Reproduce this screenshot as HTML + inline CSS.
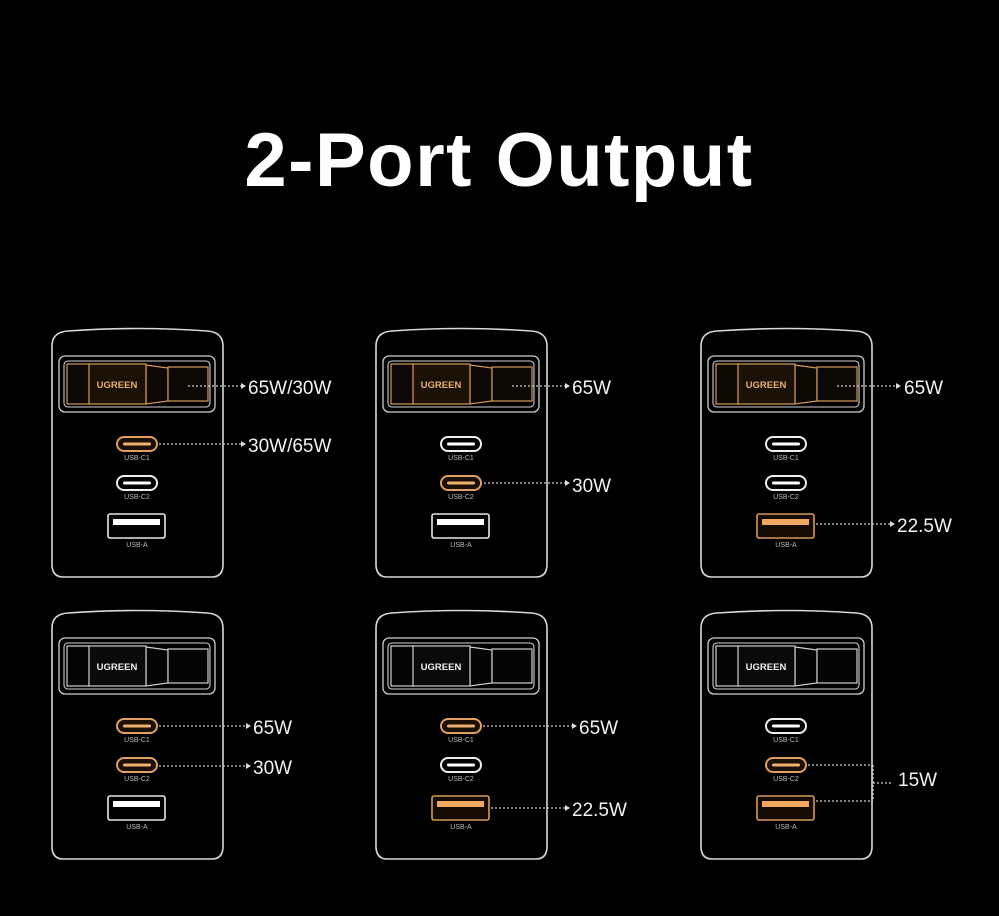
<!DOCTYPE html>
<html><head><meta charset="utf-8"><style>
html,body{margin:0;padding:0;background:#000;}
svg{display:block}
.t{font-family:"Liberation Sans",sans-serif;fill:#fff;}
.lbl{font-family:"Liberation Sans",sans-serif;fill:#bbb;font-size:7px;text-anchor:middle;}
.w{font-family:"Liberation Sans",sans-serif;fill:#f2f2f2;font-size:19px;}
.ug{font-family:"Liberation Sans",sans-serif;font-weight:bold;font-size:9.5px;text-anchor:middle;}
.dot{stroke:#ccc;stroke-width:1.3;stroke-dasharray:2 2;fill:none}
</style></head><body>
<svg width="999" height="916" viewBox="0 0 999 916" xmlns="http://www.w3.org/2000/svg">
<rect width="999" height="916" fill="#000"/>
<text class="t" x="499" y="186" font-size="76" font-weight="bold" text-anchor="middle" letter-spacing="1.5">2-Port Output</text>
<defs>
<g id="body">
<path d="M52,346 Q52,332 68,331 Q137,326 207,331 Q223,332 223,346 L223,566 Q222,577 212,577 L63,577 Q53,577 52,566 Z" fill="#000" stroke="#d8d8d8" stroke-width="1.6"/>
<rect x="59" y="356" width="156" height="56" rx="6" fill="none" stroke="#cfcfcf" stroke-width="1.3"/>
<rect x="64" y="361" width="146" height="46" rx="4" fill="none" stroke="#cfcfcf" stroke-width="1.1"/>
</g>
<g id="plugO" stroke="#d69a55" stroke-width="1.2" fill="#0c0804">
<rect x="67" y="364" width="23" height="40"/>
<polygon points="146,365 168,368 168,401 146,404"/>
<rect x="168" y="367" width="40" height="34"/>
<rect x="89" y="364" width="57" height="40" fill="#1a1107"/>
</g>
<g id="plugW" stroke="#cfcfcf" stroke-width="1.2" fill="#050505">
<rect x="67" y="364" width="23" height="40"/>
<polygon points="146,365 168,368 168,401 146,404"/>
<rect x="168" y="367" width="40" height="34"/>
<rect x="89" y="364" width="57" height="40" fill="#0a0a0a"/>
</g>
<g id="cW"><rect x="-20" y="-7" width="40" height="14" rx="7" fill="none" stroke="#eee" stroke-width="2"/><rect x="-14" y="-1.5" width="28" height="3" rx="1.5" fill="#fff"/></g>
<g id="cO"><rect x="-20" y="-7" width="40" height="14" rx="7" fill="#1a1007" stroke="#e0a060" stroke-width="2"/><rect x="-14" y="-1.5" width="28" height="3" rx="1.5" fill="#f0b070"/></g>
<g id="aW"><rect x="108" y="514" width="57" height="24" rx="2" fill="none" stroke="#e8e8e8" stroke-width="1.6"/><rect x="113" y="519" width="47" height="6" fill="#fff"/></g>
<g id="aO"><rect x="108" y="514" width="57" height="24" rx="2" fill="#140c05" stroke="#d69a55" stroke-width="1.6"/><rect x="113" y="519" width="47" height="6" fill="#f0a860"/></g>
<g id="labels">
<text class="lbl" x="137" y="460">USB-C1</text>
<text class="lbl" x="137" y="499">USB-C2</text>
<text class="lbl" x="137" y="547">USB-A</text>
</g>
</defs>

<g>
<use href="#body"/><use href="#plugO"/>
<text class="ug" x="117" y="388" fill="#e8b070">UGREEN</text>
<use href="#cO" x="137" y="444"/><use href="#cW" x="137" y="483"/><use href="#aW"/><use href="#labels"/>
<line class="dot" x1="188" y1="386" x2="242" y2="386"/><polygon points="241,383 246,386 241,389" fill="#ddd"/>
<text class="w" x="248" y="394">65W/30W</text>
<line class="dot" x1="159" y1="444" x2="242" y2="444"/><polygon points="241,441 246,444 241,447" fill="#ddd"/>
<text class="w" x="248" y="452">30W/65W</text>
</g>

<g transform="translate(324,0)">
<use href="#body"/><use href="#plugO"/>
<text class="ug" x="117" y="388" fill="#e8b070">UGREEN</text>
<use href="#cW" x="137" y="444"/><use href="#cO" x="137" y="483"/><use href="#aW"/><use href="#labels"/>
<line class="dot" x1="188" y1="386" x2="242" y2="386"/><polygon points="241,383 246,386 241,389" fill="#ddd"/>
<text class="w" x="248" y="394">65W</text>
<line class="dot" x1="160" y1="483" x2="242" y2="483"/><polygon points="241,480 246,483 241,486" fill="#ddd"/>
<text class="w" x="248" y="492">30W</text>
</g>

<g transform="translate(649,0)">
<use href="#body"/><use href="#plugO"/>
<text class="ug" x="117" y="388" fill="#e8b070">UGREEN</text>
<use href="#cW" x="137" y="444"/><use href="#cW" x="137" y="483"/><use href="#aO"/><use href="#labels"/>
<line class="dot" x1="188" y1="386" x2="248" y2="386"/><polygon points="247,383 252,386 247,389" fill="#ddd"/>
<text class="w" x="255" y="394">65W</text>
<line class="dot" x1="167" y1="524" x2="242" y2="524"/><polygon points="241,521 246,524 241,527" fill="#ddd"/>
<text class="w" x="248" y="532">22.5W</text>
</g>

<g transform="translate(0,282)">
<use href="#body"/><use href="#plugW"/>
<text class="ug" x="117" y="388" fill="#f2f2f2">UGREEN</text>
<use href="#cO" x="137" y="444"/><use href="#cO" x="137" y="483"/><use href="#aW"/><use href="#labels"/>
<line class="dot" x1="159" y1="444" x2="247" y2="444"/><polygon points="246,441 251,444 246,447" fill="#ddd"/>
<text class="w" x="253" y="452">65W</text>
<line class="dot" x1="159" y1="484" x2="247" y2="484"/><polygon points="246,481 251,484 246,487" fill="#ddd"/>
<text class="w" x="253" y="492">30W</text>
</g>

<g transform="translate(324,282)">
<use href="#body"/><use href="#plugW"/>
<text class="ug" x="117" y="388" fill="#f2f2f2">UGREEN</text>
<use href="#cO" x="137" y="444"/><use href="#cW" x="137" y="483"/><use href="#aO"/><use href="#labels"/>
<line class="dot" x1="159" y1="444" x2="249" y2="444"/><polygon points="248,441 253,444 248,447" fill="#ddd"/>
<text class="w" x="255" y="452">65W</text>
<line class="dot" x1="167" y1="526" x2="242" y2="526"/><polygon points="241,523 246,526 241,529" fill="#ddd"/>
<text class="w" x="248" y="534">22.5W</text>
</g>

<g transform="translate(649,282)">
<use href="#body"/><use href="#plugW"/>
<text class="ug" x="117" y="388" fill="#f2f2f2">UGREEN</text>
<use href="#cW" x="137" y="444"/><use href="#cO" x="137" y="483"/><use href="#aO"/><use href="#labels"/>
<line class="dot" x1="159" y1="483" x2="224" y2="483"/>
<line class="dot" x1="167" y1="519" x2="224" y2="519"/>
<line class="dot" x1="224" y1="483" x2="224" y2="519"/>
<line class="dot" x1="224" y1="501" x2="243" y2="501"/>
<text class="w" x="249" y="504">15W</text>
</g>
</svg>
</body></html>
